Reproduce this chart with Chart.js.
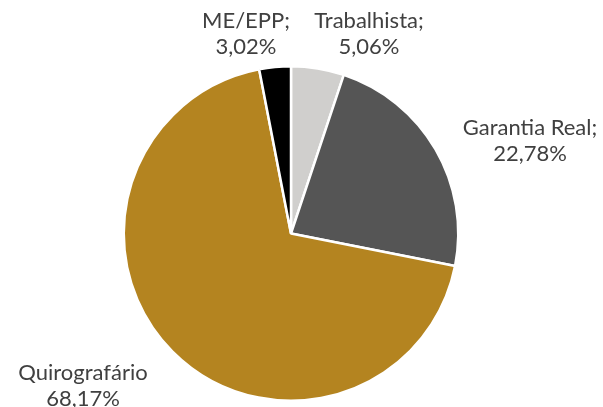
<!DOCTYPE html>
<html>
<head>
<meta charset="utf-8">
<script src="https://cdn.jsdelivr.net/npm/chart.js@4"></script>
<style>
  html, body { margin: 0; padding: 0; background: #fff; }
  #wrap { width: 603px; height: 407px; position: relative; }
</style>
</head>
<body>
<div id="wrap"><canvas id="pie"></canvas></div>
<script>
// categorias e valores (%)
const categories = ['Trabalhista', 'Garantia Real', 'Quirografário', 'ME/EPP'];
const values = [5.06, 22.78, 68.17, 3.02];
const colors = ['#d0cfcd', '#555555', '#b48420', '#000000'];
// texto dos rótulos (duas linhas cada)
const labelLines = [
    ['Trabalhista;', '5,06%'],
    ['Garantia Real;', '22,78%'],
    ['Quirografário', '68,17%'],
    ['ME/EPP;', '3,02%'],
];
// posição dos rótulos relativa ao centro do gráfico
const labelOffsets = [[78, -200], [239, -93], [-208, 152], [-45, -200]];

const labelPlugin = {
    id: 'outsideLabels',
    afterDatasetsDraw: (chart) => {
        const ctx = chart.ctx;
        const meta = chart.getDatasetMeta(0);
        ctx.save();
        ctx.fillStyle = '#404040';
        ctx.font = "22px Lato";
        ctx.textAlign = 'center';
        ctx.textBaseline = 'middle';
        meta.data.forEach((arc, i) => {
            const cx = arc.x + labelOffsets[i][0];
            const cy = arc.y + labelOffsets[i][1];
            ctx.fillText(labelLines[i][0], cx, cy - 13);
            ctx.fillText(labelLines[i][1], cx, cy + 13);
        });
        ctx.restore();
    },
};

new Chart(document.getElementById('pie').getContext('2d'), {
    type: 'pie',
    data: {
        labels: categories,
        datasets: [{
            data: values,
            backgroundColor: colors,
            borderColor: '#ffffff',
            borderWidth: 2.5,
        }],
    },
    options: {
        responsive: true,
        maintainAspectRatio: false,
        animation: false,
        layout: { padding: { top: 65, bottom: 5, left: 0, right: 21 } },
        plugins: {
            legend: { display: false },
            tooltip: { enabled: false },
        },
    },
    plugins: [labelPlugin],
});
</script>
</body>
</html>
